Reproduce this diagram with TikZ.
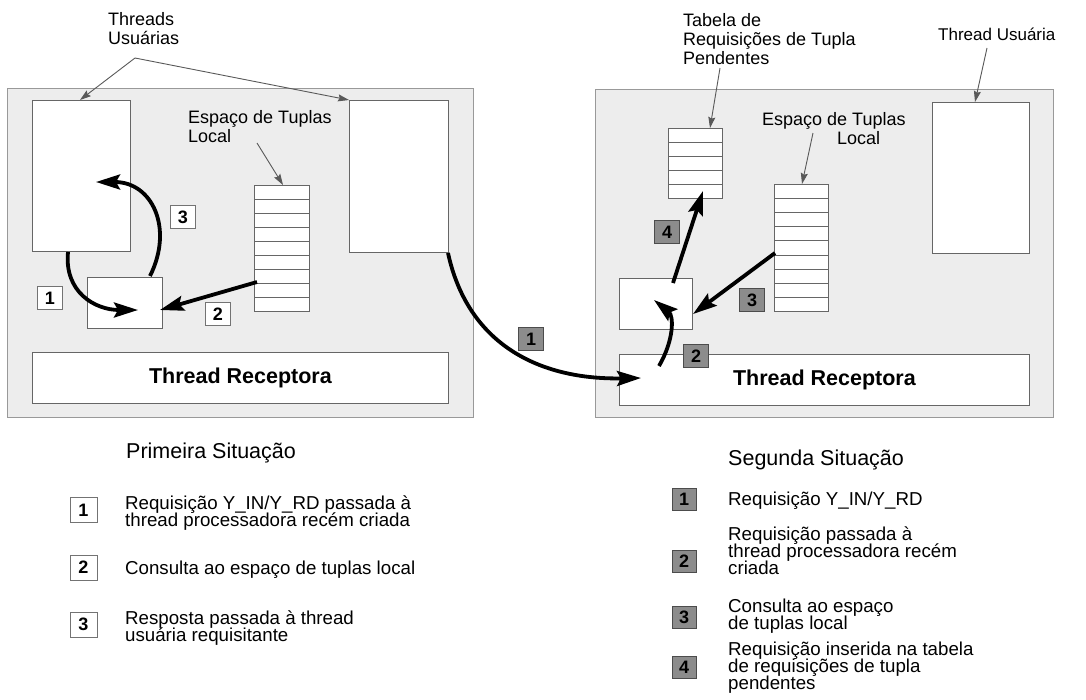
\documentclass[tikz,border=0pt]{standalone}
\usepackage{fontspec}
\setmainfont{Liberation Sans}
\usetikzlibrary{arrows.meta,calc}
\lineskiplimit=-50pt
\begin{document}
\begin{tikzpicture}[x=1pt,y=-1pt,
  panel/.style={draw=black!40, fill=black!7, line width=0.9pt, inner sep=0, anchor=north west},
  box/.style={draw=black!60, fill=white, line width=0.8pt, inner sep=0, anchor=north west},
  rowline/.style={draw=black!60, line width=0.8pt},
  lab/.style={draw=black!55, fill=white, line width=0.7pt, minimum width=25, minimum height=23, inner sep=0, font=\fontsize{18}{18}\selectfont\bfseries},
  glab/.style={lab, fill=black!45, draw=black!70},
  leglab/.style={lab, minimum width=27, minimum height=25},
  gleglab/.style={glab, minimum width=24, minimum height=22},
  big/.style={line width=3.8pt, -{Stealth[length=24pt,width=15pt,inset=4pt]}},
  ptr/.style={draw=black!65, line width=0.9pt, -{Stealth[length=11pt,width=7pt,inset=1.5pt]}},
  ann/.style={inner sep=0, align=left, font=\fontsize{18}{19}\selectfont},
  leg/.style={inner sep=0, align=left, font=\fontsize{18.7}{16.7}\selectfont},
  legtitle/.style={inner sep=0, font=\fontsize{21.5}{21.5}\selectfont},
  recep/.style={box, font=\fontsize{21.5}{21.5}\selectfont\bfseries}
]
\useasboundingbox (0,0) rectangle (1086,699);

% ---------- panels ----------
\node[panel, minimum width=466, minimum height=329] (P1) at (7,88) {};
\node[panel, minimum width=458, minimum height=328] (P2) at (595,89) {};

% ---------- left panel ----------
\node[box, minimum width=98, minimum height=151] (ut1) at (32,100) {};
\node[box, minimum width=99, minimum height=152] (ut2) at (349,100) {};
\node[box, minimum width=55, minimum height=126] (ts1) at (254,185) {};
\foreach \i in {1,...,8}
  \draw[rowline] ($(ts1.north west)!\i/9!(ts1.south west)$) -- ($(ts1.north east)!\i/9!(ts1.south east)$);
\node[box, minimum width=75, minimum height=51] (pb1) at (87,277) {};
\node[recep, minimum width=416, minimum height=51] (tr1) at (32,352) {Thread Receptora};

\node[ann, anchor=north west] (tu) at (108,12) {Threads\\Usuárias};
\coordinate (tuo) at (135,58);
\coordinate (ut1p) at (80,100);
\draw[ptr] (tuo) -- (ut1p);
\draw[ptr] (tuo) -- (ut2.north west);

\node[ann, anchor=north west] (etl1) at (188,110) {Espaço de Tuplas\\Local};
\coordinate (etl1o) at (257,143);
\coordinate (ts1p) at (283,185);
\draw[ptr] (etl1o) -- (ts1p);

% arrows left
\coordinate (a1s) at (68,252);
\coordinate (a1e) at (138,310);
\draw[big] (a1s) .. controls (64,292) and (95,310) .. (a1e);
\coordinate (a2s) at (257,282);
\coordinate (a2e) at (160,310);
\draw[big] (a2s) -- (a2e);
\coordinate (a3s) at (150,276);
\coordinate (a3e) at (96,182);
\draw[big] (a3s) .. controls (174,228) and (152,182) .. (a3e);

\node[lab] (l1) at (50,298) {1};
\node[lab] (l2) at (218,314) {2};
\node[lab] (l3) at (183,217) {3};

% ---------- right panel ----------
\node[box, minimum width=54, minimum height=70] (pt) at (668,128) {};
\foreach \i in {1,...,4}
  \draw[rowline] ($(pt.north west)!\i/5!(pt.south west)$) -- ($(pt.north east)!\i/5!(pt.south east)$);
\node[box, minimum width=54, minimum height=127] (ts2) at (774,184) {};
\foreach \i in {1,...,8}
  \draw[rowline] ($(ts2.north west)!\i/9!(ts2.south west)$) -- ($(ts2.north east)!\i/9!(ts2.south east)$);
\node[box, minimum width=97, minimum height=151] (ut3) at (932,102) {};
\node[box, minimum width=73, minimum height=51] (pb2) at (619,278) {};
\node[recep, minimum width=410, minimum height=51] (tr2) at (619,354) {Thread Receptora};

\node[ann, anchor=north west] (tab) at (683,13) {Tabela de\\Requisições de Tupla\\Pendentes};
\coordinate (tabo) at (720,68);
\coordinate (ptp) at (710,128);
\draw[ptr] (tabo) -- (ptp);

\node[ann, anchor=north west] (etl2) at (762,112) {Espaço de Tuplas\\\hspace*{75pt}Local};
\coordinate (etl2o) at (813,133);
\coordinate (ts2p) at (802,184);
\draw[ptr] (etl2o) -- (ts2p);

\node[ann, anchor=base west, font=\fontsize{17}{17}\selectfont] (tus) at (938,40) {Thread Usuária};
\coordinate (tuso) at (987,48);
\coordinate (ut3p) at (975,102);
\draw[ptr] (tuso) -- (ut3p);

% ---------- inter-panel arrow ----------
\coordinate (ips) at (448,253);
\coordinate (ipe) at (641,378);
\draw[big] (ips) .. controls (468,345) and (540,380) .. (ipe);
\node[glab] (g1) at (531,339) {1};

% arrows right
\coordinate (b2s) at (659,366);
\coordinate (b2e) at (654,300);
\draw[big] (b2s) .. controls (674,340) and (674,316) .. (b2e);
\coordinate (b3s) at (775,253);
\coordinate (b3e) at (693,314);
\draw[big] (b3s) -- (b3e);
\coordinate (b4s) at (673,283);
\coordinate (b4e) at (703,191);
\draw[big] (b4s) -- (b4e);

\node[glab] (g2) at (696,356) {2};
\node[glab] (g3) at (752,300) {3};
\node[glab] (g4) at (667,232) {4};

% ---------- legend left ----------
\node[legtitle, anchor=base west] (sit1) at (126,458) {Primeira Situação};
\node[leglab] (k1) at (83.5,510) {1};
\node[leg, anchor=north west] (t1) at (125,496) {Requisição Y\_IN/Y\_RD passada à\\thread processadora recém criada};
\node[leglab] (k2) at (83.5,567.5) {2};
\node[leg, anchor=base west] (t2) at (125,574) {Consulta ao espaço de tuplas local};
\node[leglab] (k3) at (83.5,624.5) {3};
\node[leg, anchor=north west] (t3) at (125,611) {Resposta passada à thread\\usuária requisitante};

% ---------- legend right ----------
\node[legtitle, anchor=base west] (sit2) at (728,465) {Segunda Situação};
\node[gleglab] (m1) at (684,499) {1};
\node[leg, anchor=base west] (s1) at (728,505) {Requisição Y\_IN/Y\_RD};
\node[gleglab] (m2) at (684,561) {2};
\node[leg, anchor=north west] (s2) at (728,527) {Requisição passada à\\thread processadora recém\\criada};
\node[gleglab] (m3) at (684,617.5) {3};
\node[leg, anchor=north west] (s3) at (728,599) {Consulta ao espaço\\de tuplas local};
\node[gleglab] (m4) at (684,667.5) {4};
\node[leg, anchor=north west] (s4) at (728,642) {Requisição inserida na tabela\\de requisições de tupla\\pendentes};
\end{tikzpicture}
\end{document}
